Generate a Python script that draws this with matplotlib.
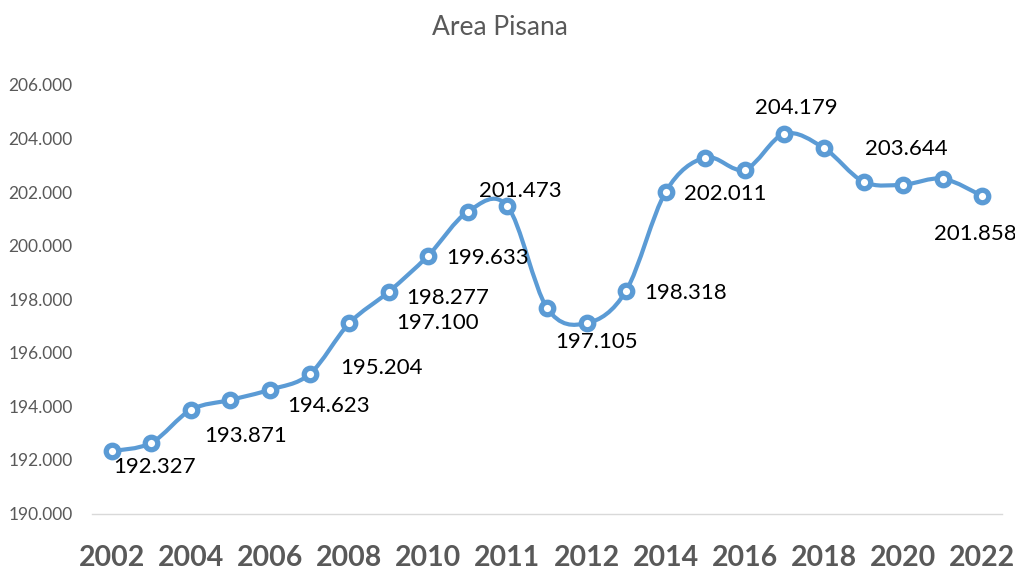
import matplotlib
matplotlib.use("Agg")
import matplotlib.pyplot as plt
from matplotlib.path import Path
from matplotlib.patches import PathPatch
import numpy as np

title = "Area Pisana"
categories = ["2002", "2003", "2004", "2005", "2006", "2007", "2008", "2009",
              "2010", "2010", "2011", "2011", "2012", "2013", "2014", "2015",
              "2016", "2017", "2018", "2019", "2020", "2021", "2022"]
values = [192.327, 192.64, 193.871, 194.24, 194.623, 195.204, 197.100, 198.277,
          199.633, 201.27, 201.473, 197.68, 197.105, 198.318, 202.011, 203.29,
          202.84, 204.179, 203.644, 202.39, 202.28, 202.50, 201.858]
# indices that carry a data label, and label offset in pixels (dx, dy downwards)
label_idx = [0, 2, 4, 5, 6, 7, 8, 10, 12, 13, 14, 17, 18, 22]
label_off = [(43, 16), (55, 26), (59, 16), (72, -6), (88, 0), (59, 6), (59, 2),
             (13, -15), (10, 19), (59, 2), (60, 2), (12, -26), (82, 1), (-7, 38)]
yticks = [190, 192, 194, 196, 198, 200, 202, 204, 206]

BLUE = "#5B9BD5"
GRAY = "#595959"
FONT = "Lato"

fig = plt.figure(figsize=(10.15, 5.70), dpi=100)
ax = fig.add_axes([0.0906, 0.0991, 0.8966, 0.7518])

x = np.arange(len(values), dtype=float)
y = np.array(values, dtype=float)

# Smoothed line (Excel-like cubic Bezier through the points)
n = len(x)
verts = [(x[0], y[0])]
codes = [Path.MOVETO]
for i in range(n - 1):
    p0 = np.array([x[max(i - 1, 0)], y[max(i - 1, 0)]])
    p1 = np.array([x[i], y[i]])
    p2 = np.array([x[i + 1], y[i + 1]])
    p3 = np.array([x[min(i + 2, n - 1)], y[min(i + 2, n - 1)]])
    c1 = p1 + (p2 - p0) / 6.0
    c2 = p2 - (p3 - p1) / 6.0
    verts += [tuple(c1), tuple(c2), tuple(p2)]
    codes += [Path.CURVE4] * 3
ax.add_patch(PathPatch(Path(verts, codes), facecolor="none", edgecolor=BLUE,
                       lw=3.0, capstyle="round", joinstyle="round", zorder=3))
ax.plot(x, y, linestyle="none", marker="o", ms=9.0, mew=3.8,
        mfc="white", mec=BLUE, zorder=4)

for i, (dx, dy) in zip(label_idx, label_off):
    ax.annotate(f"{values[i]:.3f}", (x[i], y[i]), xytext=(dx, -dy),
                textcoords="offset pixels", ha="center", va="center",
                fontsize=16, family=FONT, color="black", zorder=5)

ax.set_xlim(-0.5, n - 0.5)
ax.set_ylim(190, 206)
ax.set_yticks(yticks)
ax.set_yticklabels([f"{v:.3f}" for v in yticks], family=FONT, fontsize=12.5, color=GRAY)
ax.set_xticks(x[::2])
ax.set_xticklabels(categories[::2], family=FONT, fontsize=20.5, fontweight="bold", color=GRAY)

for s in ["top", "right", "left"]:
    ax.spines[s].set_visible(False)
ax.spines["bottom"].set_color("#D9D9D9")
ax.spines["bottom"].set_linewidth(1.0)
ax.tick_params(axis="both", length=0)
ax.tick_params(axis="x", pad=23)
ax.tick_params(axis="y", pad=14)

fig.text(0.4926, 0.952, title, ha="center", va="center", fontsize=19, family=FONT, color=GRAY)

fig.savefig("out.png", dpi=100)
